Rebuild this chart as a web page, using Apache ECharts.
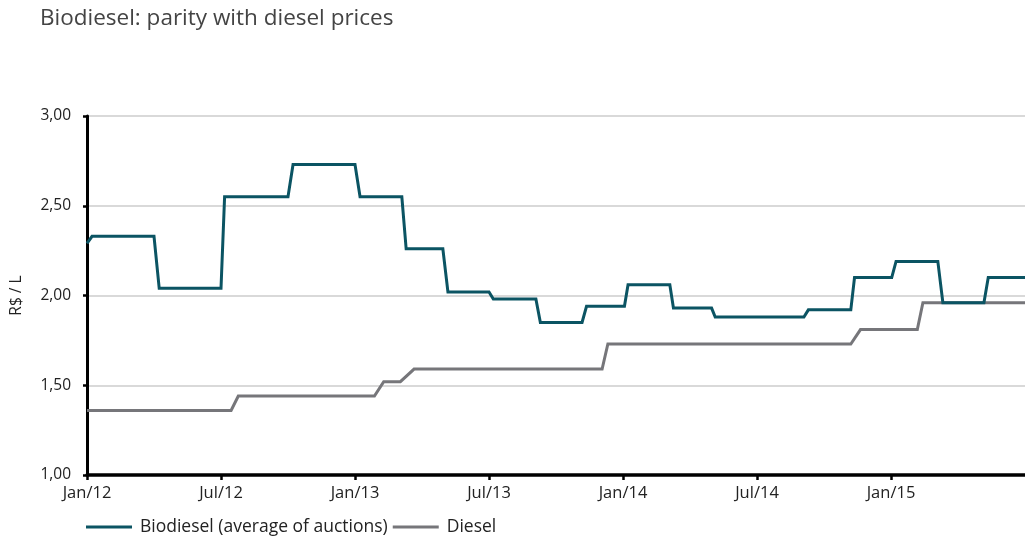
<!DOCTYPE html>
<html>
<head>
<meta charset="utf-8">
<title>Biodiesel: parity with diesel prices</title>
<script src="https://cdn.jsdelivr.net/npm/echarts@6/dist/echarts.min.js"></script>
<style>
  html, body { margin: 0; padding: 0; background: #ffffff; }
  #chart { width: 1025px; height: 538px; }
</style>
</head>
<body>
<div id="chart"></div>
<script>
// Biodiesel auction average vs. diesel price, R$ per litre (change points)
const bioDates = [
  '2012-01-01', '2012-01-08', '2012-04-01', '2012-04-08', '2012-07-01', '2012-07-06',
  '2012-10-01', '2012-10-08', '2013-01-01', '2013-01-08', '2013-03-04', '2013-03-10',
  '2013-04-29', '2013-05-06', '2013-07-01', '2013-07-07', '2013-09-04', '2013-09-10',
  '2013-11-06', '2013-11-12', '2014-01-03', '2014-01-08', '2014-03-04', '2014-03-09',
  '2014-04-30', '2014-05-05', '2014-09-04', '2014-09-10', '2014-11-07', '2014-11-12',
  '2015-01-02', '2015-01-08', '2015-03-04', '2015-03-11', '2015-05-06', '2015-05-12',
  '2015-07-01'
];
const bioValues = [
  2.29, 2.33, 2.33, 2.04, 2.04, 2.55,
  2.55, 2.73, 2.73, 2.55, 2.55, 2.26,
  2.26, 2.02, 2.02, 1.98, 1.98, 1.85,
  1.85, 1.94, 1.94, 2.06, 2.06, 1.93,
  1.93, 1.88, 1.88, 1.92, 1.92, 2.10,
  2.10, 2.19, 2.19, 1.96, 1.96, 2.10,
  2.10
];

const dieselDates = [
  '2012-01-01', '2012-07-15', '2012-07-25', '2013-01-28', '2013-02-09', '2013-03-02',
  '2013-03-21', '2013-12-03', '2013-12-11', '2014-11-07', '2014-11-20', '2015-02-06',
  '2015-02-13', '2015-07-01'
];
const dieselValues = [
  1.36, 1.36, 1.44, 1.44, 1.52, 1.52,
  1.59, 1.59, 1.73, 1.73, 1.81, 1.81,
  1.96, 1.96
];

const tickLabels = ['Jan/12', 'Jul/12', 'Jan/13', 'Jul/13', 'Jan/14', 'Jul/14', 'Jan/15', 'Jul/15'];

// months elapsed since Jan 2012 (fractional within a month)
function monthIndex(s) {
  const [y, m, d] = s.split('-').map(Number);
  const daysInMonth = new Date(y, m, 0).getDate();
  return (y - 2012) * 12 + (m - 1) + (d - 1) / daysInMonth;
}
function pairs(dates, values) {
  return dates.map((d, i) => [monthIndex(d), values[i]]);
}

const FONT = '"Open Sans", Lato, sans-serif';
const chart = echarts.init(document.getElementById('chart'), null, { renderer: 'canvas' });

chart.setOption({
  animation: false,
  backgroundColor: '#ffffff',
  title: {
    text: 'Biodiesel: parity with diesel prices',
    left: 35,
    top: 2,
    textStyle: { fontFamily: FONT, fontSize: 22.5, fontWeight: 'normal', color: '#444444' }
  },
  grid: { left: 87, right: 0, top: 116, bottom: 63, containLabel: false },
  legend: {
    left: 81,
    top: 513,
    icon: 'rect',
    itemWidth: 46,
    itemHeight: 3,
    itemGap: 5,
    textStyle: { fontFamily: FONT, fontSize: 17.5, color: '#222222', padding: [0, 0, 0, 3] },
    data: ['Biodiesel (average of auctions)', 'Diesel']
  },
  xAxis: {
    type: 'value',
    min: 0,
    max: 42,
    interval: 6,
    axisLine: { show: true, onZero: false, lineStyle: { color: '#000000', width: 3.5 } },
    axisTick: { show: true, length: 5, lineStyle: { color: '#000000', width: 2.5 } },
    axisLabel: {
      margin: 10,
      showMaxLabel: false,
      fontFamily: FONT,
      fontSize: 16.5,
      color: '#222222',
      formatter: v => tickLabels[Math.round(v / 6)] || ''
    },
    splitLine: { show: false }
  },
  yAxis: {
    type: 'value',
    min: 1,
    max: 3,
    interval: 0.5,
    name: 'R$ / L',
    nameLocation: 'middle',
    nameGap: 62,
    nameRotate: 90,
    nameTextStyle: { fontFamily: FONT, fontSize: 15.5, color: '#222222' },
    axisLine: { show: true, lineStyle: { color: '#000000', width: 3 } },
    axisTick: { show: true, length: 4, lineStyle: { color: '#000000', width: 2.5 } },
    axisLabel: {
      margin: 16,
      fontFamily: FONT,
      fontSize: 15.5,
      color: '#222222',
      formatter: v => v.toFixed(2).replace('.', ',')
    },
    splitLine: { show: true, lineStyle: { color: '#cccccc', width: 1.5 } }
  },
  series: [
    {
      name: 'Biodiesel (average of auctions)',
      type: 'line',
      data: pairs(bioDates, bioValues),
      showSymbol: false,
      symbol: 'none',
      itemStyle: { color: '#0b5463' },
      lineStyle: { color: '#0b5463', width: 3, join: 'miter' },
      z: 3
    },
    {
      name: 'Diesel',
      type: 'line',
      data: pairs(dieselDates, dieselValues),
      showSymbol: false,
      symbol: 'none',
      itemStyle: { color: '#76767a' },
      lineStyle: { color: '#76767a', width: 3, join: 'miter' },
      z: 2
    }
  ]
});
</script>
</body>
</html>
